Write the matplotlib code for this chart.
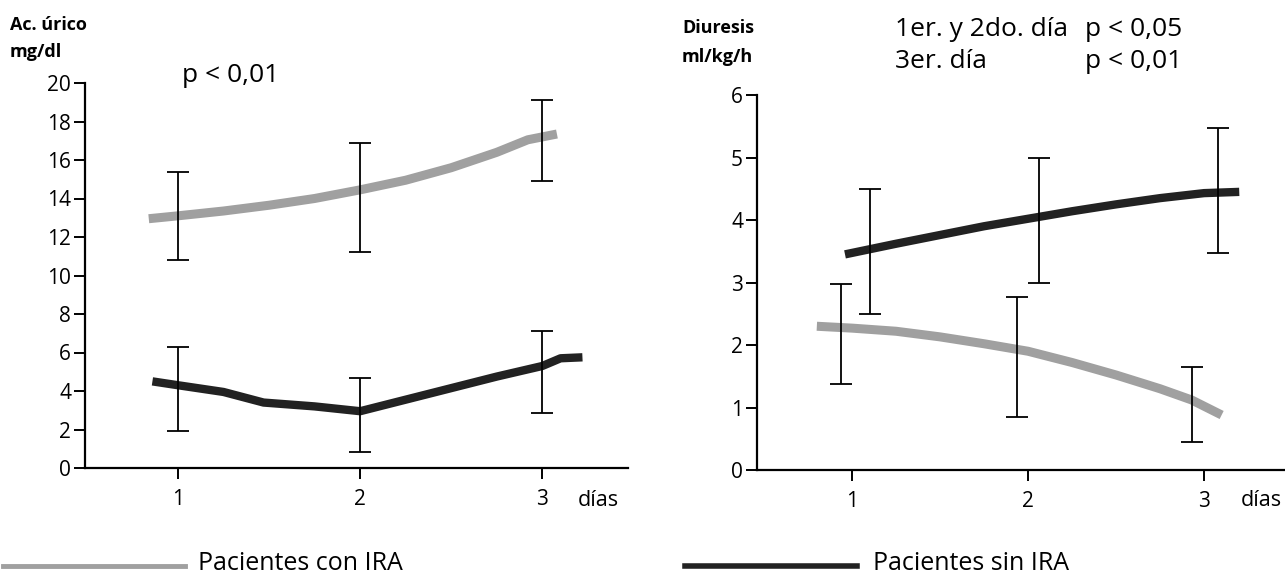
import numpy as np
import matplotlib
matplotlib.use('Agg')
import matplotlib.pyplot as plt

plt.rcParams['font.family'] = ['Open Sans', 'DejaVu Sans']

# Ac. urico (mg/dl) - left panel
days = [1, 2, 3]
uric_con_lo = [10.8, 11.2, 14.9]
uric_con_hi = [15.4, 16.9, 19.1]
uric_sin_lo = [1.9, 0.85, 2.85]
uric_sin_hi = [6.3, 4.7, 7.1]
uric_con_x = [0.84, 1.0, 1.25, 1.5, 1.75, 2.0, 2.25, 2.5, 2.75, 2.92, 3.08]
uric_con_y = [12.95, 13.1, 13.35, 13.65, 14.0, 14.45, 14.95, 15.6, 16.4, 17.05, 17.35]
uric_sin_x = [0.86, 1.0, 1.25, 1.47, 1.75, 2.0, 2.25, 2.5, 2.75, 3.0, 3.1, 3.22]
uric_sin_y = [4.5, 4.3, 3.95, 3.4, 3.2, 2.95, 3.55, 4.15, 4.75, 5.3, 5.7, 5.75]

# Diuresis (ml/kg/h) - right panel
diu_con_pos = [0.94, 1.935, 2.93]
diu_sin_pos = [1.1, 2.06, 3.08]
diu_con_lo = [1.37, 0.85, 0.45]
diu_con_hi = [2.97, 2.77, 1.65]
diu_sin_lo = [2.5, 3.0, 3.47]
diu_sin_hi = [4.5, 5.0, 5.47]
diu_con_x = [0.8, 1.0, 1.25, 1.5, 1.75, 2.0, 2.25, 2.5, 2.75, 2.93, 3.1]
diu_con_y = [2.3, 2.27, 2.22, 2.13, 2.02, 1.9, 1.72, 1.52, 1.3, 1.12, 0.88]
diu_sin_x = [0.96, 1.25, 1.5, 1.75, 2.0, 2.25, 2.5, 2.75, 3.0, 3.2]
diu_sin_y = [3.45, 3.62, 3.76, 3.9, 4.02, 4.14, 4.25, 4.35, 4.43, 4.45]

GRAY = '#a0a0a0'
DARK = '#222222'
W, H = 1285, 579

fig = plt.figure(figsize=(W / 100, H / 100), dpi=100)


def px_axes(x0, x1, y_top, y_bot):
    return fig.add_axes([x0 / W, 1 - y_bot / H, (x1 - x0) / W, (y_bot - y_top) / H])


def style(ax, yticks):
    for s in ['top', 'right']:
        ax.spines[s].set_visible(False)
    ax.spines['left'].set_linewidth(1.6)
    ax.spines['bottom'].set_linewidth(1.6)
    ax.spines['left'].set_bounds(yticks[0], yticks[-1])
    ax.set_yticks(yticks)
    ax.set_xticks(days)
    ax.tick_params(axis='both', length=8, width=1.4, labelsize=15, direction='out')
    ax.tick_params(axis='x', pad=7)
    ax.tick_params(axis='y', pad=2)
    ax.patch.set_alpha(0)


def errbars(ax, x, lo, hi):
    lo = np.array(lo)
    hi = np.array(hi)
    mid = (lo + hi) / 2
    ax.errorbar(x, mid, yerr=(hi - lo) / 2, fmt='none', ecolor='black',
                elinewidth=1.3, capsize=8, capthick=1.3, zorder=4)


# left panel
ax1 = px_axes(85, 628, 83, 468)
ax1.set_xlim(0.49, 3.47)
ax1.set_ylim(0, 20)
ax1.plot(uric_con_x, uric_con_y, color=GRAY, lw=6.5, solid_capstyle='butt', zorder=3)
ax1.plot(uric_sin_x, uric_sin_y, color=DARK, lw=6, solid_capstyle='butt', zorder=3)
errbars(ax1, days, uric_con_lo, uric_con_hi)
errbars(ax1, days, uric_sin_lo, uric_sin_hi)
style(ax1, list(range(0, 21, 2)))

# right panel
ax2 = px_axes(757, 1285, 95, 470)
ax2.set_xlim(0.46, 3.46)
ax2.set_ylim(0, 6)
ax2.plot(diu_con_x, diu_con_y, color=GRAY, lw=6.5, solid_capstyle='butt', zorder=3)
ax2.plot(diu_sin_x, diu_sin_y, color=DARK, lw=6, solid_capstyle='butt', zorder=3)
errbars(ax2, diu_con_pos, diu_con_lo, diu_con_hi)
errbars(ax2, diu_sin_pos, diu_sin_lo, diu_sin_hi)
style(ax2, list(range(0, 7)))


def ftext(x, y, s, **kw):
    fig.text(x / W, 1 - y / H, s, va='center', **kw)


ftext(10, 25, 'Ac. úrico', fontsize=13, fontweight='bold')
ftext(10, 52, 'mg/dl', fontsize=13, fontweight='bold')
ftext(682, 28, 'Diuresis', fontsize=13, fontweight='bold')
ftext(682, 57, 'ml/kg/h', fontsize=13, fontweight='bold')

ftext(182, 75, 'p < 0,01', fontsize=19)
ftext(895, 29, '1er. y 2do. día', fontsize=19)
ftext(1085, 29, 'p < 0,05', fontsize=19)
ftext(895, 61, '3er. día', fontsize=19)
ftext(1085, 61, 'p < 0,01', fontsize=19)

ftext(578, 501, 'días', fontsize=15.5)
ftext(1241, 501, 'días', fontsize=15.5)

# legend at the bottom
leg = fig.add_axes([0, 0, 1, 1])
leg.set_xlim(0, W)
leg.set_ylim(H, 0)
leg.axis('off')
leg.patch.set_alpha(0)
leg.plot([3, 185], [566, 566], color=GRAY, lw=3.5)
leg.plot([685, 857], [566, 566], color=DARK, lw=4)
ftext(198, 564, 'Pacientes con IRA', fontsize=18)
ftext(873, 564, 'Pacientes sin IRA', fontsize=18)

fig.savefig('out.png', dpi=100)
